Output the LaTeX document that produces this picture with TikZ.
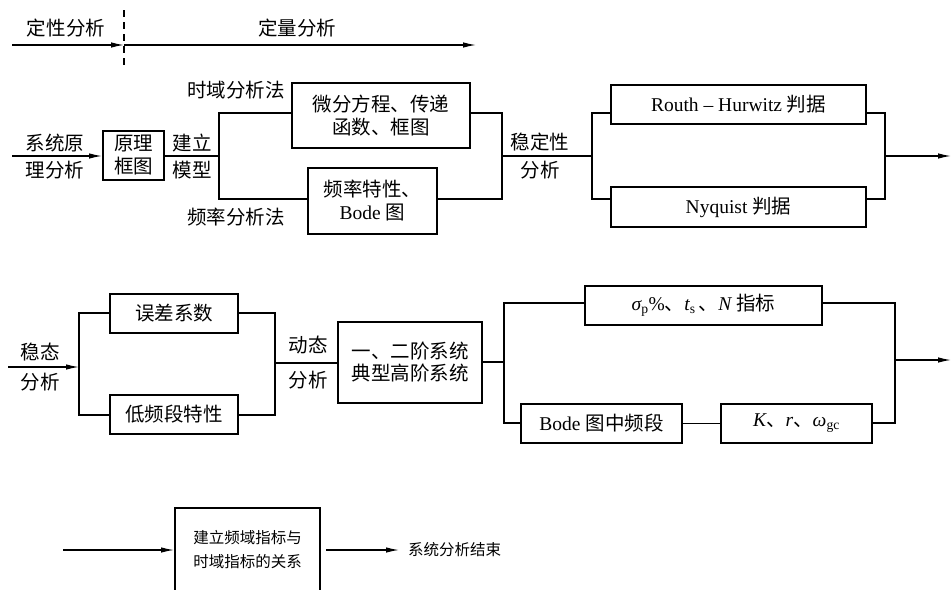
\documentclass[tikz,border=0pt]{standalone}
\usepackage{fontspec}
\setmainfont{Liberation Serif}
\newfontfamily\cjk{Noto Sans CJK SC}
\usetikzlibrary{arrows.meta}
\begin{document}
\begin{tikzpicture}[x=1pt,y=-1pt,
  conn/.style={line width=1.2pt},
  arr/.style={conn,-{Latex[length=13pt,width=5.5pt]}},
  box/.style={draw, line width=2pt, align=center, inner sep=0pt},
  lbl/.style={align=center, inner sep=0pt},
  zh/.style={font=\cjk\fontsize{19.5}{23}\selectfont},
  mix/.style={font=\fontsize{19.5}{23}\selectfont},
  zhs/.style={font=\cjk\fontsize{15.5}{24}\selectfont},
]
\path[use as bounding box, clip] (0,0) rectangle (952,589);

% ---------- top: qualitative / quantitative ----------
\node[lbl,zh] (qual) at (66,28) {定性分析};
\node[lbl,zh] (quan) at (297,28) {定量分析};
\coordinate (t0) at (12,45);
\coordinate (t1) at (124,45);
\coordinate (t2) at (476,45);
\coordinate (dtop) at (124,10);
\coordinate (dbot) at (124,68);
\draw[arr] (t0) -- (t1);
\draw[arr] (t1) -- (t2);
\draw[conn,dash pattern=on 7pt off 5pt] (dtop) -- (dbot);

% ---------- row 1 ----------
\coordinate (in1) at (12,156);
\node[box,zh,minimum width=61,minimum height=49] (yl) at (133.5,155.5) {原理\\框图};
\node[lbl,font=\cjk\fontsize{19.5}{27}\selectfont] (l1) at (55,156.5) {系统原\\理分析};
\node[lbl,font=\cjk\fontsize{19.5}{27}\selectfont] (l2) at (192,156.5) {建立\\模型};
\coordinate (j1) at (219,156);
\coordinate (j1t) at (219,113);
\coordinate (j1b) at (219,199);
\node[box,zh,minimum width=178,minimum height=65] (wf) at (381,115.5) {微分方程、传递\\函数、框图};
\node[box,mix,minimum width=129,minimum height=66] (pl) at (372.5,201) {{\cjk 频率特性、}\\Bode {\cjk 图}};
\node[lbl,zh] (l3) at (236,90) {时域分析法};
\node[lbl,zh] (l4) at (236,217) {频率分析法};
\coordinate (j2) at (502,156);
\coordinate (j2t) at (502,113);
\coordinate (j2b) at (502,199);
\node[lbl,font=\cjk\fontsize{19.5}{28}\selectfont] (l5) at (540,156) {稳定性\\分析};
\coordinate (j3) at (592,156);
\coordinate (j3t) at (592,113);
\coordinate (j3b) at (592,199);
\node[box,mix,minimum width=255,minimum height=39] (routh) at (738.5,104.5) {Routh – Hurwitz {\cjk 判据}};
\node[box,mix,minimum width=255,minimum height=40] (nyq) at (738.5,207) {Nyquist {\cjk 判据}};
\coordinate (j4) at (885,156);
\coordinate (j4t) at (885,113);
\coordinate (j4b) at (885,199);
\coordinate (out1) at (951,156);

\draw[arr] (in1) -- (yl.west |- in1);
\draw[conn] (yl.east |- j1) -- (j1);
\draw[conn] (wf.west |- j1t) -- (j1t) -- (j1b) -- (pl.west |- j1b);
\draw[conn] (wf.east |- j2t) -- (j2t) -- (j2b) -- (pl.east |- j2b);
\draw[conn] (j2) -- (j3);
\draw[conn] (routh.west |- j3t) -- (j3t) -- (j3b) -- (nyq.west |- j3b);
\draw[conn] (routh.east |- j4t) -- (j4t) -- (j4b) -- (nyq.east |- j4b);
\draw[arr] (j4) -- (out1);

% ---------- row 2 ----------
\coordinate (in2) at (8,367);
\node[lbl,font=\cjk\fontsize{19.5}{30}\selectfont] (l6) at (40,367) {稳态\\分析};
\coordinate (j5) at (79,367);
\coordinate (j5t) at (79,313);
\coordinate (j5b) at (79,415);
\node[box,zh,minimum width=128,minimum height=39] (wc) at (174,313.5) {误差系数};
\node[box,zh,minimum width=128,minimum height=39] (dp) at (174,414.5) {低频段特性};
\coordinate (j6) at (275,363);
\coordinate (j6t) at (275,313);
\coordinate (j6b) at (275,415);
\node[lbl,font=\cjk\fontsize{19.5}{35}\selectfont] (l7) at (308,362.5) {动态\\分析};
\node[box,font=\cjk\fontsize{19.5}{22}\selectfont,minimum width=144,minimum height=81] (ej) at (410,362.5) {一、二阶系统\\典型高阶系统};
\coordinate (j7) at (504,362);
\coordinate (j7t) at (504,303);
\coordinate (j7b) at (504,423);
\node[box,mix,minimum width=237,minimum height=39] (sig) at (703.5,305.5) {{\itshape σ}\textsubscript{p}\%{\cjk 、}{\itshape t}\textsubscript{s}\,{\cjk 、}{\itshape N} {\cjk 指标}};
\node[box,mix,minimum width=161,minimum height=39] (bode) at (601.5,423.5) {Bode {\cjk 图中频段}};
\node[box,mix,minimum width=151,minimum height=39] (krw) at (796.5,423.5) {{\itshape K}{\cjk 、}{\itshape r}{\cjk 、}{\itshape ω}\textsubscript{gc}};
\coordinate (j8) at (895,360);
\coordinate (j8t) at (895,303);
\coordinate (j8b) at (895,423);
\coordinate (out2) at (951,360);

\draw[arr] (in2) -- (j5);
\draw[conn] (wc.west |- j5t) -- (j5t) -- (j5b) -- (dp.west |- j5b);
\draw[conn] (wc.east |- j6t) -- (j6t) -- (j6b) -- (dp.east |- j6b);
\draw[conn] (j6) -- (ej.west |- j6);
\draw[conn] (ej.east |- j7) -- (j7);
\draw[conn] (sig.west |- j7t) -- (j7t) -- (j7b) -- (bode.west |- j7b);
\draw[conn] (bode) -- (krw);
\draw[conn] (sig.east |- j8t) -- (j8t) -- (j8b) -- (krw.east |- j8b);
\draw[arr] (j8) -- (out2);

% ---------- row 3 ----------
\coordinate (in3) at (63,550);
\node[box,zhs,minimum width=145,minimum height=84] (rel) at (247.5,550) {建立频域指标与\\时域指标的关系};
\node[lbl,zhs,anchor=west] (endt) at (408,550) {系统分析结束};
\coordinate (e3) at (399,550);
\draw[arr] (in3) -- (rel.west |- in3);
\draw[arr,shorten <=5pt] (rel.east |- e3) -- (e3);
\end{tikzpicture}
\end{document}
